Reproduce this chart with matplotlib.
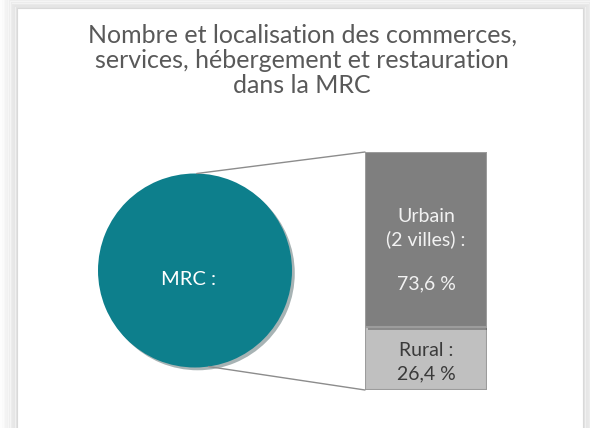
import numpy as np
import matplotlib
matplotlib.use("Agg")
import matplotlib.pyplot as plt
from matplotlib.patches import Rectangle, ConnectionPatch
import matplotlib.patheffects as pe

plt.rcParams['font.family'] = ['Lato', 'DejaVu Sans']

title = "Nombre et localisation des commerces,\nservices, hébergement et restauration\ndans la MRC"
pie_label = "MRC :"
parts = ["Urbain\n(2 villes) :\n\n73,6 %", "Rural :\n26,4 %"]
shares = [73.6, 26.4]
part_colors = ["#7f7f7f", "#c0c0c0"]
part_text = ["#f2f2f2", "#3a3a3a"]

fig = plt.figure(figsize=(5.9, 4.28), dpi=100)
fig.patch.set_facecolor("white")

# panel shadow around the white chart area
for i, a in enumerate(np.linspace(0.10, 0.01, 10)):
    fig.patches.append(Rectangle((17 / 590 - i * 0.003, -0.1), 566 / 590 + i * 0.006,
                                 (420 / 428) + 0.1 + i * 0.004,
                                 transform=fig.transFigure, facecolor="none",
                                 edgecolor=(0.35, 0.35, 0.35, a), linewidth=2, zorder=-3))
fig.patches.append(Rectangle((17 / 590, -0.1), 566 / 590, 420 / 428 + 0.1,
                             transform=fig.transFigure, facecolor="white",
                             edgecolor="#d9d9d9", linewidth=0.8, zorder=-2))

fig.text(0.512, 0.946, title, ha="center", va="top", fontsize=18,
         color="#595959", linespacing=1.14)

# circle ("pie" with a single slice)
ax_pie = fig.add_axes([98 / 590, (428 - 368) / 428, 194 / 590, 195 / 428])
wedges, _ = ax_pie.pie([sum(shares)], colors=["#0d7f8c"], radius=1,
                       wedgeprops=dict(linewidth=0))
wedges[0].set_path_effects([pe.SimplePatchShadow(offset=(2, -2), alpha=0.35),
                            pe.Normal()])
ax_pie.text(-0.07, -0.09, pie_label, ha="center", va="center", color="white",
            fontsize=14.5)
ax_pie.set_xlim(-1, 1)
ax_pie.set_ylim(-1, 1)
ax_pie.set_aspect("equal")
ax_pie.axis("off")

# stacked bar
ax_bar = fig.add_axes([365 / 590, (428 - 390) / 428, 122 / 590, 238 / 428])
bottom = 0
for share, col in zip(shares[::-1], part_colors[::-1]):
    ax_bar.bar(0, share, width=1, bottom=bottom, color=col, edgecolor="#9c9c9c",
               linewidth=1.5,
               path_effects=[pe.SimplePatchShadow(offset=(2, -2), alpha=0.35), pe.Normal()])
    bottom += share
ax_bar.set_xlim(-0.5, 0.5)
ax_bar.set_ylim(0, sum(shares))
ax_bar.axis("off")

ax_bar.text(0, shares[1] + shares[0] * 0.5 - 4.5, parts[0], ha="center", va="center",
            color=part_text[0], fontsize=14, linespacing=1.35)
ax_bar.text(0, shares[1] * 0.5 - 1.5, parts[1], ha="center", va="center",
            color=part_text[1], fontsize=14, linespacing=1.45)

# connector lines
top_ang, bot_ang = np.deg2rad(89), np.deg2rad(-82)
for ang, yb in [(top_ang, sum(shares)), (bot_ang, 0)]:
    con = ConnectionPatch(xyA=(np.cos(ang), np.sin(ang)), coordsA=ax_pie.transData,
                          xyB=(-0.5, yb), coordsB=ax_bar.transData,
                          color="#8c8c8c", linewidth=1.0)
    fig.add_artist(con)

fig.savefig("out.png", dpi=100)
